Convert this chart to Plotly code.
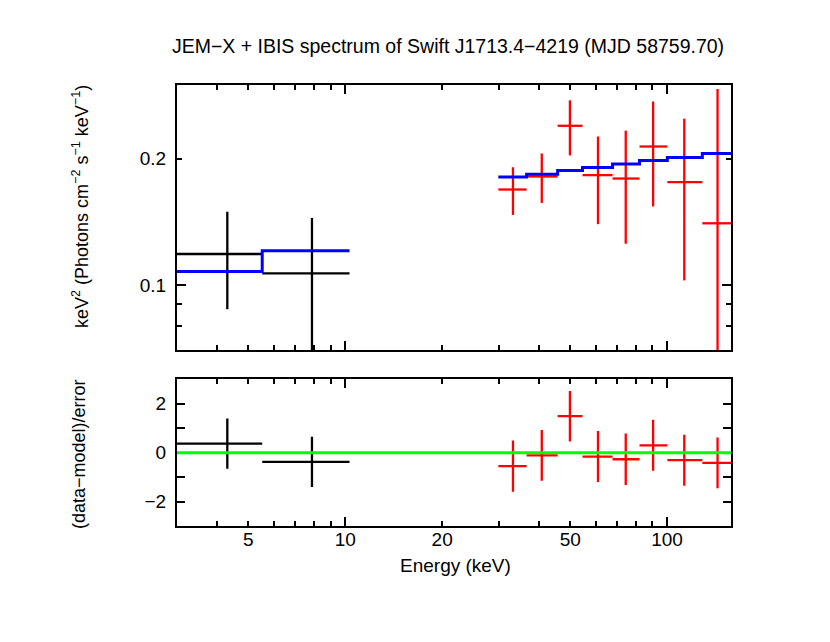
import numpy as np
import plotly.graph_objects as go

# JEM-X (black) spectrum, keV^2 (Photons cm^-2 s^-1 keV^-1)
jemx_edges = [3.0, 5.52, 10.31]
jemx_energy = [4.30, 7.88]
jemx_flux = [0.1186, 0.1066]
jemx_flux_err = [0.031, 0.038]
jemx_model = [0.1078, 0.1208]
jemx_resid = [0.37, -0.38]
jemx_resid_err = [1.03, 1.03]

# IBIS/ISGRI (red) spectrum
ibis_edges = [29.9, 36.6, 45.7, 54.6, 67.7, 82.1, 100.2, 128.7, 158.2]
ibis_energy = [33.2, 40.8, 49.9, 61.0, 74.4, 90.5, 113.1, 143.5]
ibis_flux = [0.169, 0.1815, 0.2398, 0.1829, 0.1795, 0.214, 0.176, 0.1404]
ibis_flux_err = [0.022, 0.0245, 0.036, 0.0432, 0.054, 0.060, 0.0734, 0.153]
ibis_model = [0.1809, 0.1839, 0.1875, 0.1907, 0.1943, 0.1981, 0.2014, 0.2059]
ibis_resid = [-0.55, -0.11, 1.49, -0.16, -0.27, 0.30, -0.31, -0.42]
ibis_resid_err = [1.05, 1.04, 1.03, 1.04, 1.05, 1.04, 1.04, 1.04]

x_ticks = [5, 10, 20, 50, 100]
x_minor = [3, 4, 6, 7, 8, 9, 30, 40, 60, 70, 80, 90]
x_decades = [10, 100]
x_range = [3.0, 158.0]
y_range = [0.07, 0.30]

FONT = "Liberation Sans, Arial, Helvetica, sans-serif"
LW = 2.3

# the page body has an 8px margin, so the figure is 8px smaller each way
W, H = 822, 634
ML, MT = 169, 77
PW, PH = 554, 441


def data_trace(edges, energy, vals, errs, color, yaxis, xaxis):
    e = np.array(edges)
    c = np.array(energy)
    return go.Scatter(
        x=c, y=vals, mode="markers", xaxis=xaxis, yaxis=yaxis,
        marker=dict(size=2, color=color, opacity=0),
        error_x=dict(type="data", symmetric=False, array=e[1:] - c, arrayminus=c - e[:-1],
                     width=0, thickness=LW, color=color),
        error_y=dict(type="data", array=errs, width=0, thickness=LW, color=color),
        showlegend=False, hoverinfo="skip")


def model_trace(edges, model):
    return go.Scatter(
        x=edges, y=list(model) + [model[-1]], mode="lines", line_shape="hv",
        line=dict(color="#0000ff", width=3), xaxis="x", yaxis="y",
        showlegend=False, hoverinfo="skip")


def dummy(xaxis, yaxis, yval):
    return go.Scatter(x=[10], y=[yval], xaxis=xaxis, yaxis=yaxis, mode="markers",
                      marker=dict(opacity=0), showlegend=False, hoverinfo="skip")


fig = go.Figure()
fig.add_trace(data_trace(jemx_edges, jemx_energy, jemx_flux, jemx_flux_err, "black", "y", "x"))
fig.add_trace(data_trace(ibis_edges, ibis_energy, ibis_flux, ibis_flux_err, "#ff0000", "y", "x"))
fig.add_trace(model_trace(jemx_edges, jemx_model))
fig.add_trace(model_trace(ibis_edges, ibis_model))
fig.add_trace(data_trace(jemx_edges, jemx_energy, jemx_resid, jemx_resid_err, "black", "y2", "x2"))
fig.add_trace(data_trace(ibis_edges, ibis_energy, ibis_resid, ibis_resid_err, "#ff0000", "y2", "x2"))
# helpers so the longer decade ticks get drawn
fig.add_trace(dummy("x3", "y", 0.1))
fig.add_trace(dummy("x", "y3", 0.1))
fig.add_trace(dummy("x4", "y2", 0))

# zero line of the residual panel, across the whole panel
fig.add_shape(type="line", xref="x2 domain", x0=0, x1=1, yref="y2", y0=0, y1=0,
              line=dict(color="#00ff00", width=3), layer="above")

axis = dict(showline=True, linecolor="black", linewidth=2, mirror="ticks", ticks="inside",
            tickcolor="black", tickwidth=2, showgrid=False, zeroline=False,
            tickfont=dict(size=19, color="black", family=FONT))
minor_x = dict(tickvals=x_minor, ticklen=5, tickwidth=2, tickcolor="black", ticks="inside")
log_x = dict(type="log", range=[np.log10(x_range[0]), np.log10(x_range[1])])
log_y = dict(type="log", range=[np.log10(y_range[0]), np.log10(y_range[1])])

fig.update_layout(
    width=W, height=H,
    margin=dict(l=ML, r=W - ML - PW, t=MT, b=H - MT - PH),
    paper_bgcolor="white", plot_bgcolor="white",
    font=dict(family=FONT, size=19, color="black"),
    title=dict(text="JEM\u2212X + IBIS spectrum of Swift J1713.4\u22124219 (MJD 58759.70)",
               x=(448 - 8) / W, xanchor="center", y=1 - (46 - 8) / H, yanchor="middle",
               font=dict(size=19.5, color="black", family=FONT)),
    xaxis=dict(axis, **log_x, domain=[0, 1], anchor="y", tickvals=x_ticks, ticklen=5,
               showticklabels=False, minor=minor_x),
    xaxis2=dict(axis, **log_x, domain=[0, 1], anchor="y2", tickvals=x_ticks,
                ticktext=[str(v) for v in x_ticks], ticklen=5, ticklabelstandoff=-5, minor=minor_x),
    xaxis3=dict(axis, **log_x, overlaying="x", anchor="y", tickvals=x_decades, ticklen=9,
                showticklabels=False),
    xaxis4=dict(axis, **log_x, overlaying="x2", anchor="y2", tickvals=x_decades, ticklen=9,
                showticklabels=False),
    yaxis=dict(axis, **log_y, domain=[0.399, 1], anchor="x", tickvals=[0.1, 0.2],
               ticktext=["0.1", "0.2"], ticklen=5, ticklabelstandoff=5,
               minor=dict(tickvals=[0.07, 0.08, 0.09, 0.3], ticklen=5, tickwidth=2,
                          tickcolor="black", ticks="inside")),
    yaxis3=dict(axis, **log_y, overlaying="y", anchor="x", tickvals=[0.1], ticklen=9,
                showticklabels=False),
    yaxis2=dict(axis, domain=[0, 0.3327], anchor="x2", range=[-3, 3],
                tickvals=[-2, -1, 0, 1, 2], ticktext=["\u22122", "", "0", "", "2"],
                ticklen=8, ticklabelstandoff=5),
    annotations=[
        dict(text="keV<sup>2</sup> (Photons cm<sup>\u22122</sup> s<sup>\u22121</sup> keV<sup>\u22121</sup>)",
             xref="paper", yref="paper", x=(80 - 177) / PW, y=(526 - 207) / PH,
             textangle=-90, showarrow=False, xanchor="center", yanchor="middle",
             font=dict(size=18)),
        dict(text="(data\u2212model)/error", xref="paper", yref="paper",
             x=(79 - 177) / PW, y=(526 - 454) / PH, textangle=-90, showarrow=False,
             xanchor="center", yanchor="middle", font=dict(size=18)),
        dict(text="Energy (keV)", xref="paper", yref="paper", x=(455 - 177) / PW,
             y=(526 - 565) / PH, showarrow=False, xanchor="center", yanchor="middle",
             font=dict(size=19)),
    ],
)

fig.write_html("out.html")
